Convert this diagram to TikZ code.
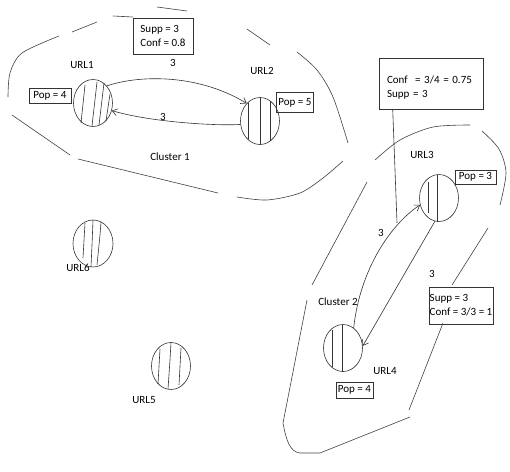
\documentclass[tikz,border=0pt]{standalone}
\usepackage{fontspec}
\setmainfont{Carlito}
\usetikzlibrary{shapes.geometric,arrows.meta}
\begin{document}
\begin{tikzpicture}[x=1pt,y=-1pt,
  ln/.style={draw=black!80,line width=0.6pt},
  url/.style={ln,ellipse,inner sep=0pt,minimum width=39pt,minimum height=47pt},
  hatch/.style={draw=black!80,line width=0.6pt},
  bnd/.style={draw=black!75,line width=0.6pt},
  info/.style={ln,font=\fontsize{11}{14}\selectfont,inner sep=0pt,align=left},
  lbl/.style={font=\fontsize{11}{12}\selectfont,inner sep=0pt},
  arr/.style={draw=black!80,line width=0.6pt,-{Straight Barb[length=5pt,width=7pt]}}
]
\useasboundingbox (0,0) rectangle (510,471);

% ---- URL nodes ----
\node[url] (u1) at (93,103) {};
\node[url] (u2) at (260,121) {};
\node[url] (u3) at (439,198) {};
\node[url] (u4) at (343,348) {};
\node[url,minimum width=40pt] (u6) at (93,243.5) {};
\node[url] (u5) at (171,366) {};

% hatching
\draw[hatch] (85,85) -- (81,123) (97,82) -- (92,126) (104,83) -- (99,125) (110,94) -- (106,121);
\draw[hatch] (248,103) -- (248,139) (260,97.5) -- (260,144.5) (270,101) -- (270,141);
\draw[hatch] (428,182) -- (428,213) (437,175) -- (437,221.5);
\draw[hatch] (332,330) -- (332,367) (342,324.5) -- (342,371.5);
\draw[hatch] (85,223) -- (83,258) (93,220) -- (92,245) -- (91,267) (101,222) -- (100,235) -- (97,265);
\draw[hatch] (160,349) -- (158,384) (171,342.5) -- (170,360) -- (168,389) (181,348) -- (179,385);

% URL labels
\node[lbl] (l1) at (82,65) {URL1};
\node[lbl] (l2) at (262,71) {URL2};
\node[lbl] (l3) at (422,155) {URL3};
\node[lbl] (l4) at (385,371) {URL4};
\node[lbl] (l6) at (78,268) {URL6};
\node[lbl] (l5) at (144,400) {URL5};
\node[lbl] (c1) at (170,157) {Cluster 1};
\node[lbl] (c2) at (338,302) {Cluster 2};

% Pop boxes
\node[info,minimum width=42pt,minimum height=15pt,align=center] (p1) at (50,95.5) {Pop = 4};
\node[info,minimum width=37pt,minimum height=20pt,align=center] (p2) at (295,102.5) {Pop = 5};
\node[info,minimum width=41pt,minimum height=14pt,align=center] (p3) at (475.5,177) {Pop = 3};
\node[info,minimum width=37pt,minimum height=16pt,align=center] (p4) at (354.5,390) {Pop = 4};

% info boxes
\node[info,minimum width=60pt,minimum height=36pt] (s1) at (163,36) {Supp = 3\\Conf = 0.8};
\node[info,minimum width=104pt,minimum height=51pt,text width=88pt] (s2) at (431,83.5) {\rule{0pt}{16pt}Conf\ \ = 3/4 = 0.75\\Supp = 3};
\node[info,minimum width=64pt,minimum height=37pt] (s3) at (461,305.5) {Supp = 3\\Conf = 3/3 = 1};
\coordinate (vl) at (397,223);
\draw[ln] ([xshift=14pt]s2.south west) -- (vl);

% arrows
\draw[arr] (u1.51) .. controls (135,76) and (195,72) .. (u2.127);
\draw[arr] (u2.190) .. controls (215,126) and (150,122) .. (u1.-22);
\draw[arr] (u4.62) .. controls (360,270) and (390,225) .. (u3.200);
\draw[arr] (u3.-100) -- (u4.6);
\node[lbl] (n1) at (173,63) {3};
\node[lbl] (n2) at (163,117) {3};
\node[lbl] (n3) at (381,233) {3};
\node[lbl] (n4) at (432,274) {3};

% cluster 1 boundary (broken freehand)
\draw[bnd] (157,7) -- (187,11);
\draw[bnd] (113,16) -- (133,17);
\draw[bnd] (72,32) -- (97,22);
\draw[bnd] plot[smooth] coordinates {(59,36) (22,53) (10,73) (8,97)};
\draw[bnd] (12,115) -- (70,155);
\draw[bnd] (78,159) -- (218,193);
\draw[bnd] plot[smooth] coordinates {(237,197) (267,200) (300,193) (323,178) (343,161)};
\draw[bnd] plot[smooth] coordinates {(297,52) (317,70) (333,97) (348,143)};
\draw[bnd] (247,29) -- (270,45);

% cluster 2 boundary
\draw[bnd] plot[smooth] coordinates {(375,160) (400,140) (433,127) (470,125)};
\draw[bnd] plot[smooth] coordinates {(482,131) (499,149) (506,173) (500,205)};
\draw[bnd] (488,228) -- (452,285);
\draw[bnd] (443,323) -- (409,410);
\draw[bnd] (367,182) -- (312,285);
\draw[bnd] (307,300) -- (283,423) .. controls (286,440) and (290,452) .. (300,453) -- (320,453) -- (410,417);
\end{tikzpicture}
\end{document}
